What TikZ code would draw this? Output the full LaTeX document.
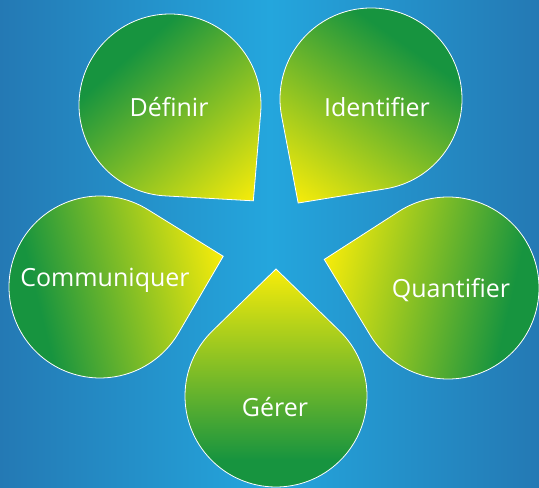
\documentclass[tikz,border=0pt]{standalone}
\usepackage{fontspec}
\setmainfont{Open Sans}
\definecolor{bgedge}{HTML}{2479B4}
\definecolor{bgmid}{HTML}{24A6DD}
\definecolor{dropgreen}{HTML}{17943F}
\definecolor{dropyellow}{HTML}{F7EC0A}
\pgfdeclareverticalshading{petalfill}{100bp}{color(0bp)=(dropgreen); color(25bp)=(dropgreen);
  color(33bp)=(dropgreen); color(75bp)=(dropyellow); color(100bp)=(dropyellow)}
\tikzset{
  petal/.style={draw=white, line width=0.8pt, shading=petalfill},
  petaltext/.style={text=white, font=\fontsize{25}{30}\selectfont}
}
\begin{document}
\begin{tikzpicture}[x=1pt,y=1pt]
    \useasboundingbox (0,0) rectangle (539,488);
    \clip (0,0) rectangle (539,488);
    \shade[left color=bgedge, right color=bgedge, middle color=bgmid] (0,0) rectangle (539,488);
    % centre x / centre y / tip angle / text x / text y / name / text
    \foreach \cx/\cy/\a/\tx/\ty/\nm/\lab in {170/383/-49/169/381/def/D\'efinir,
        371/389/-125/377/381/ident/Identifier, 100/201/14/105/208/comm/Communiquer,
        448/200/167/451/198/quant/Quantifier, 276/92/90/275/81/ger/G\'erer}{
      \pgfmathsetmacro{\sa}{\a-90}
      \begin{scope}[transform canvas={shift={(\cx,\cy)}, rotate=\sa}]
        \shade[petal] (90:127) -- (134:91) arc[start angle=134, end angle=406, radius=91] -- cycle;
      \end{scope}
      \node[petaltext] (\nm) at (\tx,\ty) {\lab};
    }
  \end{tikzpicture}
\end{document}
